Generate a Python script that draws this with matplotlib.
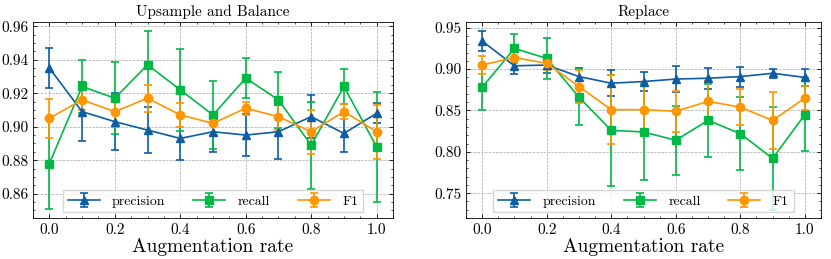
import matplotlib
matplotlib.use("Agg")
import matplotlib.pyplot as plt
import numpy as np

rates = [0.0, 0.1, 0.2, 0.3, 0.4, 0.5, 0.6, 0.7, 0.8, 0.9, 1.0]

# Upsample and Balance
ub_precision = [0.935, 0.909, 0.903, 0.898, 0.893, 0.897, 0.895, 0.897, 0.906, 0.896, 0.908]
ub_precision_err = [0.012, 0.0175, 0.017, 0.0135, 0.013, 0.012, 0.0125, 0.016, 0.013, 0.011, 0.006]
ub_recall = [0.878, 0.924, 0.917, 0.937, 0.922, 0.907, 0.929, 0.916, 0.889, 0.924, 0.888]
ub_recall_err = [0.027, 0.016, 0.0215, 0.020, 0.0245, 0.0205, 0.012, 0.0165, 0.026, 0.0105, 0.033]
ub_f1 = [0.905, 0.916, 0.909, 0.917, 0.907, 0.902, 0.911, 0.906, 0.897, 0.909, 0.897]
ub_f1_err = [0.0115, 0.006, 0.009, 0.008, 0.007, 0.007, 0.004, 0.008, 0.013, 0.0045, 0.016]

# Replace
rp_precision = [0.934, 0.904, 0.905, 0.891, 0.883, 0.885, 0.888, 0.889, 0.891, 0.895, 0.890]
rp_precision_err = [0.012, 0.010, 0.010, 0.010, 0.016, 0.012, 0.016, 0.0125, 0.012, 0.0055, 0.010]
rp_recall = [0.878, 0.925, 0.913, 0.866, 0.826, 0.824, 0.814, 0.838, 0.822, 0.792, 0.845]
rp_recall_err = [0.027, 0.018, 0.025, 0.034, 0.067, 0.058, 0.042, 0.044, 0.044, 0.062, 0.044]
rp_f1 = [0.905, 0.914, 0.907, 0.879, 0.851, 0.851, 0.849, 0.861, 0.854, 0.838, 0.865]
rp_f1_err = [0.011, 0.007, 0.008, 0.020, 0.042, 0.032, 0.025, 0.025, 0.022, 0.034, 0.015]

titles = ["Upsample and Balance", "Replace"]
series_labels = ["precision", "recall", "F1"]
colors = ["#0C5DA5", "#00B945", "#FF9500"]
markers = ["^", "s", "o"]

plt.rcParams.update({
    "font.family": "cmr10",
    "mathtext.fontset": "cm",
    "axes.formatter.use_mathtext": True,
    "xtick.direction": "in",
    "ytick.direction": "in",
    "xtick.top": True,
    "ytick.right": True,
    "xtick.minor.visible": True,
    "ytick.minor.visible": True,
    "xtick.major.size": 3,
    "ytick.major.size": 3,
    "xtick.minor.size": 1.5,
    "ytick.minor.size": 1.5,
    "axes.linewidth": 0.6,
})

fig = plt.figure(figsize=(8.31, 2.59), dpi=100)
ax1 = fig.add_axes([33/831, 1-218/259, (393-33)/831, (218-22)/259])
ax2 = fig.add_axes([466/831, 1-218/259, (821-466)/831, (218-22)/259])

data = [
    [(ub_precision, ub_precision_err), (ub_recall, ub_recall_err), (ub_f1, ub_f1_err)],
    [(rp_precision, rp_precision_err), (rp_recall, rp_recall_err), (rp_f1, rp_f1_err)],
]

for ax, title, d in zip([ax1, ax2], titles, data):
    for (vals, errs), lab, c, m in zip(d, series_labels, colors, markers):
        ax.errorbar(rates, vals, yerr=errs, label=lab, color=c, marker=m,
                    markersize=6, linewidth=1.2, capsize=3, elinewidth=1.2,
                    capthick=1.2)
    ax.set_title(title, fontsize=11, pad=4)
    ax.set_xlabel("Augmentation rate", fontsize=14, labelpad=1)
    ax.grid(True, linestyle="--", color="gray", linewidth=0.5, alpha=0.7)
    ax.tick_params(labelsize=11, width=0.6)
    ax.tick_params(which="minor", width=0.5)
    ax.set_xlim(-0.05, 1.05)
    ax.set_xticks([0.0, 0.2, 0.4, 0.6, 0.8, 1.0])
    ax.set_xticklabels(["0.0", "0.2", "0.4", "0.6", "0.8", "1.0"])
    ax.legend(loc="lower center", ncol=3, fontsize=10, frameon=True,
              fancybox=False, edgecolor="#cccccc", columnspacing=2.0,
              handlelength=2.3, borderaxespad=0.4, borderpad=0.35,
              handletextpad=0.9)

ax1.set_ylim(0.8455, 0.9625)
ax1.set_yticks([0.86, 0.88, 0.90, 0.92, 0.94, 0.96])
ax1.set_yticklabels(["0.86", "0.88", "0.90", "0.92", "0.94", "0.96"])
ax2.set_ylim(0.72, 0.957)
ax2.set_yticks([0.75, 0.80, 0.85, 0.90, 0.95])
ax2.set_yticklabels(["0.75", "0.80", "0.85", "0.90", "0.95"])

fig.savefig("out.png", dpi=100)
